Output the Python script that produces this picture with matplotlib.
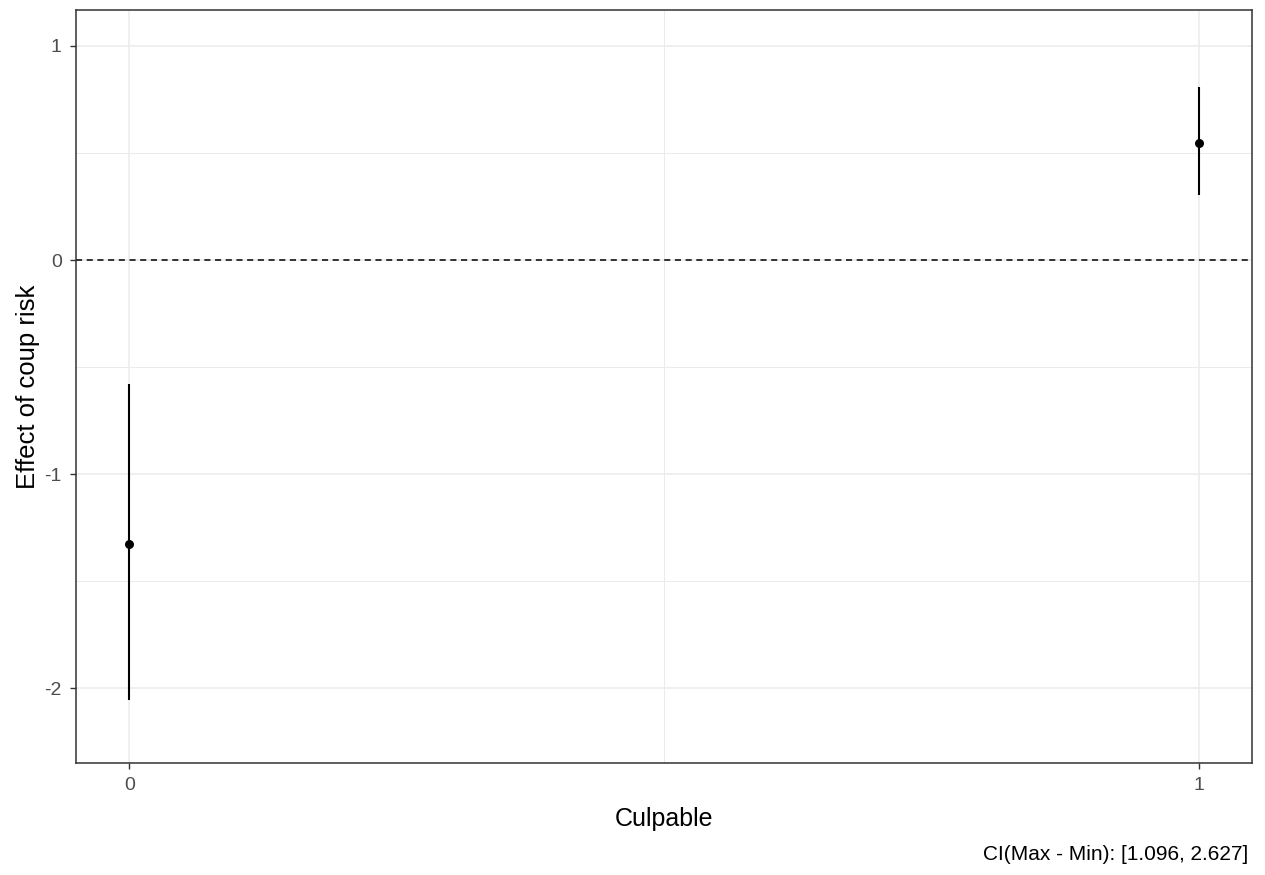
import matplotlib
matplotlib.use("Agg")
import matplotlib.pyplot as plt
from matplotlib.ticker import FixedLocator

plt.rcParams['font.family'] = ['Liberation Sans', 'DejaVu Sans']

# Data
culpable = [0, 1]
estimate = [-1.326, 0.547]
ci_low = [-2.057, 0.302]
ci_high = [-0.577, 0.807]
xtick_labels = ["0", "1"]
yticks = [-2, -1, 0, 1]
caption = "CI(Max - Min): [1.096, 2.627]"

W, H = 1265, 875
fig = plt.figure(figsize=(W / 100, H / 100), dpi=100)
left, right, top, bottom = 76, 1252, 10, 763
ax = fig.add_axes([left / W, 1 - bottom / H, (right - left) / W, (bottom - top) / H])

ax.set_xlim(-0.05, 1.05)
ax.set_ylim(-2.35, 1.168)

# grid
ax.xaxis.set_major_locator(FixedLocator(culpable))
ax.xaxis.set_minor_locator(FixedLocator([0.5]))
ax.yaxis.set_major_locator(FixedLocator(yticks))
ax.yaxis.set_minor_locator(FixedLocator([-1.5, -0.5, 0.5]))
ax.grid(which='major', color='#ebebeb', linewidth=1.1, zorder=0)
ax.grid(which='minor', color='#ebebeb', linewidth=0.7, zorder=0)
ax.set_axisbelow(True)

ax.axhline(0, color='black', linestyle=(0, (4, 3)), linewidth=1.1, zorder=1)

for x, lo, hi in zip(culpable, ci_low, ci_high):
    ax.vlines(x, lo, hi, color='black', linewidth=1.5, zorder=2)
ax.scatter(culpable, estimate, s=42, color='black', zorder=3, linewidths=0)

ax.set_xticklabels(xtick_labels)
ax.set_yticklabels([str(v) for v in yticks])
ax.tick_params(which='major', length=4.3, width=1, color='#333333', labelcolor='#4d4d4d',
               labelsize=14, pad=6)
ax.tick_params(which='minor', length=0)
for s in ax.spines.values():
    s.set_color('#333333')
    s.set_linewidth(1.1)

ax.set_xlabel("Culpable", fontsize=18, color='black', labelpad=9)
ax.set_ylabel("Effect of coup risk", fontsize=18.5, color='black', labelpad=3)

fig.text(1248 / W, 1 - 855 / H, caption, ha='right', va='center', fontsize=15, color='black')

fig.savefig("out.png", dpi=100)
